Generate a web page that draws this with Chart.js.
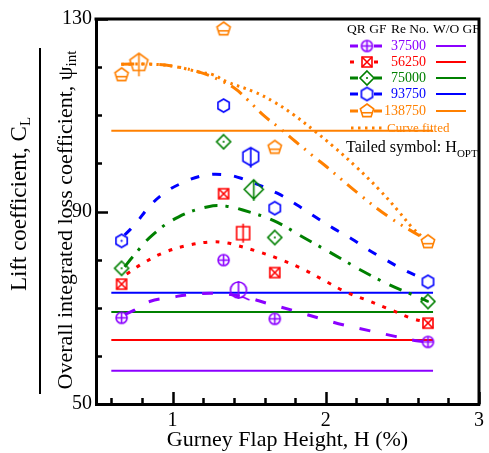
<!DOCTYPE html>
<html>
<head>
<meta charset="utf-8">
<script src="https://cdn.jsdelivr.net/npm/chart.js@4.4.0/dist/chart.umd.min.js"></script>
<style>
  body { margin: 0; background: #fff; }
  #wrap { position: relative; width: 489px; height: 453px; font-family: "Liberation Serif", serif; }
  .t { position: absolute; white-space: nowrap; line-height: 1; }
  .yt { position: absolute; white-space: nowrap; transform: translate(-50%, -50%) rotate(-90deg); line-height: 1; }
  .yt sub { font-size: 15px; vertical-align: -4px; }
  sub { line-height: 0; }
</style>
</head>
<body>
<div id="wrap">
  <canvas id="chart" width="489" height="453"></canvas>
  <div class="yt" style="left:18px;top:204px;font-size:23px">Lift coefficient, C<sub>L</sub></div>
  <div style="position:absolute;left:39px;top:48px;width:2px;height:346px;background:#000"></div>
  <div class="yt" style="left:65px;top:220px;font-size:22px">Overall integrated loss coefficient, &psi;<sub>int</sub></div>

  <div class="t" style="left:347px;top:22px;font-size:13.5px">QR GF</div>
  <div class="t" style="left:391px;top:22px;font-size:13.5px">Re No.</div>
  <div class="t" style="left:433px;top:22px;font-size:13.5px">W/O GF</div>
  <div class="t" style="left:376px;width:50px;text-align:right;top:39px;font-size:14px;color:#8b00ff">37500</div>
  <div class="t" style="left:376px;width:50px;text-align:right;top:55px;font-size:14px;color:#ff0000">56250</div>
  <div class="t" style="left:376px;width:50px;text-align:right;top:71px;font-size:14px;color:#008000">75000</div>
  <div class="t" style="left:376px;width:50px;text-align:right;top:87px;font-size:14px;color:#0000ff">93750</div>
  <div class="t" style="left:376px;width:50px;text-align:right;top:104px;font-size:14px;color:#ff8000">138750</div>
  <div class="t" style="left:387px;top:121px;font-size:13px;color:#ff8000">Curve fitted</div>
  <div class="t" style="left:346px;top:139px;font-size:16px">Tailed symbol: H<sub style="font-size:11px;vertical-align:-5px">OPT</sub></div>
</div>
<script>
const purple = '#8b00ff', red = '#ff0000', green = '#008000', blue = '#0000ff', orange = '#ff8000';

// QR GF measured points
const xQR = [0.667, 1.333, 1.667, 2.667];
const cl37500 = [67.9, 79.9, 67.7, 62.9];
const cl56250 = [74.9, 93.7, 77.3, 66.8];
const cl75000 = [78.2, 104.5, 84.6, 71.3];
const cl93750 = [83.9, 112.0, 90.7, 75.4];
const cl138750 = [118.4, 127.9, 103.3, 83.7];

// optimum heights (tailed symbols)
const xOpt = [1.43, 1.46, 1.53, 1.51, 0.78];
const clOpt = [73.7, 85.5, 94.6, 101.4, 120.9];

// without gurney flap
const xWo = [0.6, 2.7];
const clWo = [56.9, 63.3, 69.1, 73.1, 106.8];

// fitted curves
const fit37500x = [0.69, 0.75, 0.85, 1.0, 1.1, 1.28, 1.46, 1.62, 1.79, 1.96, 2.12, 2.29, 2.46, 2.58, 2.667];
const fit37500y = [68.6, 69.5, 71.3, 72.2, 72.7, 73.0, 72.3, 70.9, 69.4, 67.8, 66.4, 65.2, 64.0, 63.2, 62.9];
const fit56250x = [0.70, 0.815, 0.954, 1.105, 1.254, 1.35, 1.415, 1.565, 1.715, 1.865, 2.005, 2.13, 2.283, 2.43, 2.57, 2.667];
const fit56250y = [77.0, 79.4, 81.6, 83.0, 83.7, 83.5, 83.0, 81.6, 79.9, 77.8, 75.4, 73.3, 71.4, 69.5, 67.7, 67.0];
const fit75000x = [0.687, 0.74, 0.868, 1.04, 1.233, 1.35, 1.458, 1.66, 1.855, 2.05, 2.23, 2.42, 2.62, 2.667];
const fit75000y = [78.5, 80.6, 85.1, 88.9, 91.0, 91.1, 90.3, 88.1, 84.6, 81.1, 77.8, 74.7, 72.0, 71.3];
const fit93750x = [0.687, 0.76, 0.847, 0.944, 1.06, 1.19, 1.32, 1.447, 1.683, 1.81, 1.93, 2.05, 2.17, 2.28, 2.40, 2.52, 2.65];
const fit93750y = [85.1, 87.5, 91.0, 93.8, 95.9, 97.4, 97.7, 96.9, 93.8, 91.4, 88.9, 86.5, 84.3, 82.0, 79.8, 77.7, 75.8];
const fit138750x = [0.665, 0.868, 1.02, 1.17, 1.3, 1.405, 1.49, 1.6, 1.7, 1.8, 1.93, 2.005, 2.21, 2.41, 2.62, 2.64];
const fit138750y = [120.6, 120.6, 120.1, 119.0, 117.4, 115.6, 113.2, 109.8, 107.3, 104.6, 101.2, 99.3, 93.8, 88.9, 84.8, 84.4];
const curve138750x = [0.665, 0.868, 1.02, 1.17, 1.265, 1.35, 1.53, 1.66, 1.79, 1.92, 2.05, 2.197, 2.35, 2.476, 2.56, 2.64];
const curve138750y = [120.6, 120.6, 120.1, 119.0, 118.4, 117.0, 114.9, 112.8, 110.1, 106.9, 103.5, 99.3, 94.5, 90.0, 86.8, 84.4];

// axes
const xTickValues = [0.6, 0.8, 1, 1.2, 1.4, 1.6, 1.8, 2, 2.2, 2.4, 2.6, 2.8, 3];
const xTickLabels = [1, 2, 3];
const yTickValues = [50, 60, 70, 80, 90, 100, 110, 120, 130];
const yTickLabels = [50, 90, 130];

function makeMarker(shape, color, r, tailed, dot) {
  const pad = 5;
  const size = Math.ceil(2 * r + 2 * pad);
  const cv = document.createElement('canvas');
  cv.width = cv.height = size;
  const g = cv.getContext('2d');
  const c = size / 2;
  g.strokeStyle = color;
  g.fillStyle = color;
  g.lineWidth = 1.6;
  g.beginPath();
  if (shape === 'circle') g.arc(c, c, r, 0, 2 * Math.PI);
  else if (shape === 'square') g.rect(c - r, c - r, 2 * r, 2 * r);
  else {
    const n = { diamond: 4, hexagon: 6, pentagon: 5 }[shape];
    for (let k = 0; k < n; k++) {
      const a = -Math.PI / 2 + k * 2 * Math.PI / n;
      const px = c + r * Math.cos(a), py = c + r * Math.sin(a);
      if (k === 0) g.moveTo(px, py); else g.lineTo(px, py);
    }
    g.closePath();
  }
  g.stroke();
  g.beginPath();
  if (!tailed) {
    if (shape === 'circle') {
      g.moveTo(c - r, c); g.lineTo(c + r, c);
      g.moveTo(c, c - r); g.lineTo(c, c + r);
    } else if (shape === 'square') {
      g.moveTo(c - r, c - r); g.lineTo(c + r, c + r);
      g.moveTo(c + r, c - r); g.lineTo(c - r, c + r);
    } else if (shape === 'pentagon') {
      g.moveTo(c - 0.77 * r, c + 0.25 * r); g.lineTo(c + 0.77 * r, c + 0.25 * r);
    }
    g.stroke();
    if (dot) { g.beginPath(); g.arc(c, c, 1.1, 0, 2 * Math.PI); g.fill(); }
  } else {
    if (shape === 'square') { g.moveTo(c, c - r - 3); g.lineTo(c, c + r + 3); }
    else if (shape === 'pentagon') { g.moveTo(c, c - r); g.lineTo(c, c + r + 4); }
    else if (shape === 'circle') {
      g.moveTo(c, c - r - 1); g.lineTo(c, c + r + 1);
      g.moveTo(c + 0.4 * r, c + 0.8 * r); g.lineTo(c + r + 3, c + r + 2);
    } else { g.moveTo(c, c - r); g.lineTo(c, c + r + 2); }
    g.stroke();
  }
  return cv;
}

const mk = {
  p: makeMarker('circle', purple, 5.5, false),
  r: makeMarker('square', red, 5, false),
  g: makeMarker('diamond', green, 7, false, true),
  b: makeMarker('hexagon', blue, 6.5, false),
  bd: makeMarker('hexagon', blue, 6.5, false, true),
  o: makeMarker('pentagon', orange, 7, false)
};
const mkTail = [
  makeMarker('circle', purple, 8, true),
  makeMarker('square', red, 6.5, true),
  makeMarker('diamond', green, 9.5, true),
  makeMarker('hexagon', blue, 9, true),
  makeMarker('pentagon', orange, 9.5, true)
];

const pts = (xs, ys) => xs.map((x, i) => ({ x: x, y: ys[i] }));

const series = [
  { y: cl37500, color: purple, m: [mk.p, mk.p, mk.p, mk.p], fx: fit37500x, fy: fit37500y, dash: [11, 16] },
  { y: cl56250, color: red, m: [mk.r, mk.r, mk.r, mk.r], fx: fit56250x, fy: fit56250y, dash: [4, 8] },
  { y: cl75000, color: green, m: [mk.g, mk.g, mk.g, mk.g], fx: fit75000x, fy: fit75000y, dash: [13, 8, 3, 10] },
  { y: cl93750, color: blue, m: [mk.bd, mk.b, mk.b, mk.b], fx: fit93750x, fy: fit93750y, dash: [9, 13] },
  { y: cl138750, color: orange, m: [mk.o, mk.o, mk.o, mk.o], fx: fit138750x, fy: fit138750y, dash: [13, 7, 2, 7, 2, 7] }
];

const datasets = [];
series.forEach((s, i) => {
  datasets.push({ data: pts(xQR, s.y), showLine: false, pointStyle: s.m, order: 0 });
  datasets.push({ data: [{ x: xOpt[i], y: clOpt[i] }], showLine: false, pointStyle: mkTail[i], order: 0 });
  datasets.push({ data: pts(s.fx, s.fy), borderColor: s.color, borderWidth: 3, borderDash: s.dash,
    pointRadius: 0, tension: 0.4, order: 1 });
  datasets.push({ data: pts(xWo, [clWo[i], clWo[i]]), borderColor: s.color, borderWidth: 2,
    pointRadius: 0, order: 2 });
});
datasets.push({ data: pts(curve138750x, curve138750y), borderColor: orange, borderWidth: 3, borderDash: [2.5, 4.5],
  pointRadius: 0, tension: 0.4, order: 1 });

const frame = {
  id: 'frame',
  afterDraw(chart) {
    const ctx = chart.ctx, a = chart.chartArea;
    const xs = chart.scales.x, ys = chart.scales.y;
    ctx.save();
    ctx.strokeStyle = '#000';
    ctx.lineWidth = 3;
    ctx.beginPath();
    ctx.moveTo(a.left - 1.5, a.top); ctx.lineTo(a.right, a.top); ctx.lineTo(a.right, a.bottom + 1.5);
    ctx.stroke();
    ctx.lineWidth = 2.5;
    ctx.beginPath();
    xTickValues.forEach(v => {
      const px = Math.round(xs.getPixelForValue(v)) + 0.5;
      const len = xTickLabels.includes(v) ? 12 : 6;
      ctx.moveTo(px, a.bottom); ctx.lineTo(px, a.bottom - len);
    });
    yTickValues.forEach(v => {
      const py = Math.round(ys.getPixelForValue(v)) + 0.5;
      const len = yTickLabels.includes(v) ? 12 : 6;
      ctx.moveTo(a.left, py); ctx.lineTo(a.left + len, py);
    });
    ctx.stroke();

    // legend symbols
    const rows = [46, 62, 78, 94, 111];
    series.forEach((s, i) => {
      const y = rows[i];
      ctx.strokeStyle = s.color;
      ctx.lineWidth = 3;
      ctx.setLineDash(s.dash.map(d => Math.min(d, 8)));
      ctx.beginPath();
      ctx.moveTo(350, y); ctx.lineTo(360, y);
      ctx.moveTo(374, y); ctx.lineTo(385, y);
      ctx.stroke();
      ctx.setLineDash([]);
      const img = s.m[1];
      ctx.drawImage(img, 367 - img.width / 2, y - img.height / 2);
      ctx.lineWidth = 2;
      ctx.beginPath();
      ctx.moveTo(436, y); ctx.lineTo(466, y);
      ctx.stroke();
    });
    ctx.strokeStyle = orange;
    ctx.lineWidth = 3;
    ctx.setLineDash([2.5, 4.5]);
    ctx.beginPath();
    ctx.moveTo(351, 128); ctx.lineTo(385, 128);
    ctx.stroke();
    ctx.restore();
  }
};

new Chart(document.getElementById('chart'), {
  type: 'line',
  data: { datasets: datasets },
  plugins: [frame],
  options: {
    responsive: false,
    animation: false,
    events: [],
    layout: { padding: { top: 19, right: 3, left: 0, bottom: 0 } },
    plugins: { legend: { display: false }, tooltip: { enabled: false } },
    scales: {
      x: {
        type: 'linear', min: 0.5, max: 3,
        afterBuildTicks: s => { s.ticks = xTickValues.map(v => ({ value: v })); },
        afterFit: s => { s.height = 49; },
        grid: { display: false, drawTicks: false },
        border: { display: true, width: 3, color: '#000' },
        ticks: {
          autoSkip: false, maxRotation: 0, padding: 5, color: '#000',
          font: { family: 'Liberation Serif', size: 20 },
          callback: v => xTickLabels.includes(v) ? String(v) : ''
        },
        title: { display: true, text: 'Gurney Flap Height, H (%)', color: '#000', padding: 0,
          font: { family: 'Liberation Serif', size: 22, lineHeight: 1.2 } }
      },
      y: {
        type: 'linear', min: 50, max: 130,
        afterBuildTicks: s => { s.ticks = yTickValues.map(v => ({ value: v })); },
        afterFit: s => { s.width = 96; },
        grid: { display: false, drawTicks: false },
        border: { display: true, width: 3, color: '#000' },
        ticks: {
          autoSkip: false, padding: 4, color: '#000',
          font: { family: 'Liberation Serif', size: 20 },
          callback: v => yTickLabels.includes(v) ? String(v) : ''
        }
      }
    }
  }
});
</script>
</body>
</html>
